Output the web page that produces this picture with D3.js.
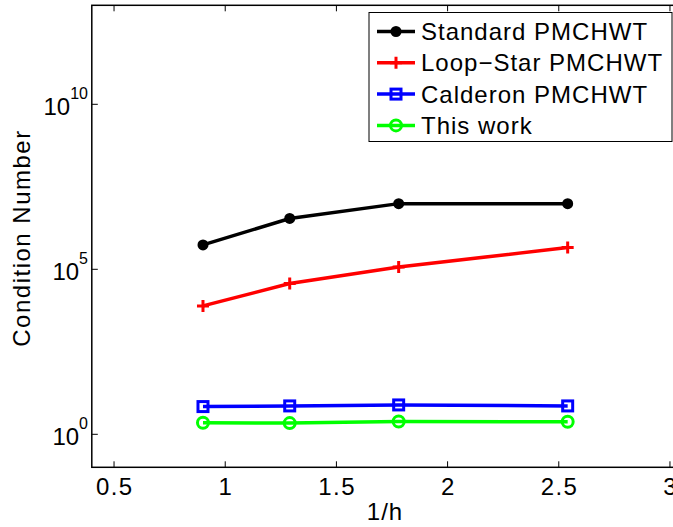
<!DOCTYPE html>
<html lang="en">
<head>
<meta charset="UTF-8">
<title>Condition number vs 1/h</title>
<script src="https://cdn.jsdelivr.net/npm/d3@7"></script>
<style>
  body { margin: 0; background: #fff; }
  svg { display: block; font-family: "Liberation Sans", Arial, sans-serif; }
</style>
</head>
<body>
<div id="chart"></div>
<script>
// data
const invH = [0.9, 1.29, 1.78, 2.54];
const seriesNames = ["Standard PMCHWT", "Loop\u2212Star PMCHWT", "Calderon PMCHWT", "This work"];
const standard = [10 ** 5.74, 10 ** 6.54, 10 ** 6.99, 10 ** 6.99];
const loopStar = [10 ** 3.89, 10 ** 4.57, 10 ** 5.07, 10 ** 5.66];
const calderon = [10 ** 0.84, 10 ** 0.86, 10 ** 0.89, 10 ** 0.86];
const thisWork = [10 ** 0.35, 10 ** 0.34, 10 ** 0.39, 10 ** 0.38];
const xTicks = [0.5, 1, 1.5, 2, 2.5, 3];
const yTickExp = [0, 5, 10];

const colors = ["#000000", "#ff0000", "#0000ff", "#00ff00"];
const markers = ["dot", "plus", "square", "circle"];
const allSeries = [standard, loopStar, calderon, thisWork];

const W = 673, H = 527;
const svg = d3.select("#chart").append("svg")
    .attr("width", W).attr("height", H);

// the figure is cropped on the right, so the axes run past the window
const x = d3.scaleLinear().domain([0.4, 3.1]).range([91.8, 692.2]);
const y = d3.scaleLog().domain([1e-1, 1e13]).range([467.3, 5.3]);
const pLeft = x(0.4), pRight = x(3.1), pTop = y(1e13), pBottom = y(1e-1);

// plot frame
svg.append("rect")
    .attr("x", pLeft).attr("y", pTop)
    .attr("width", pRight - pLeft).attr("height", pBottom - pTop)
    .attr("fill", "none").attr("stroke", "#000").attr("stroke-width", 1.5);

// x ticks (inward, bottom + top)
xTicks.forEach(t => {
  svg.append("line").attr("x1", x(t)).attr("x2", x(t))
      .attr("y1", pBottom).attr("y2", pBottom - 6).attr("stroke", "#000");
  svg.append("line").attr("x1", x(t)).attr("x2", x(t))
      .attr("y1", pTop).attr("y2", pTop + 6).attr("stroke", "#000");
  svg.append("text")
      .attr("x", x(t) + 0.7).attr("y", 495)
      .attr("text-anchor", "middle")
      .style("font-size", "24px")
      .style("letter-spacing", "1.4px")
      .text(t);
});

// y ticks (inward, left + right)
yTickExp.forEach(e => {
  const yy = y(10 ** e);
  svg.append("line").attr("x1", pLeft).attr("x2", pLeft + 6)
      .attr("y1", yy).attr("y2", yy).attr("stroke", "#000");
  svg.append("line").attr("x1", pRight).attr("x2", pRight - 6)
      .attr("y1", yy).attr("y2", yy).attr("stroke", "#000");
  const lab = svg.append("text")
      .attr("x", 88).attr("y", yy + 10.7)
      .attr("text-anchor", "end")
      .style("font-size", "24px");
  lab.append("tspan").text("10");
  lab.append("tspan").attr("dy", -16).style("font-size", "16px").text(e);
});

// axis labels
svg.append("text")
    .attr("x", 385).attr("y", 520)
    .attr("text-anchor", "middle")
    .style("font-size", "24px")
    .style("letter-spacing", "1px")
    .text("1/h");

svg.append("text")
    .attr("transform", "translate(30,238) rotate(-90)")
    .attr("text-anchor", "middle")
    .style("font-size", "24px")
    .style("letter-spacing", "1.5px")
    .text("Condition Number");

function drawMarker(g, kind, cx, cy, col) {
  if (kind === "dot") {
    g.append("circle").attr("cx", cx).attr("cy", cy).attr("r", 5.5).attr("fill", col);
  } else if (kind === "plus") {
    g.append("path")
        .attr("d", `M${cx - 6},${cy}H${cx + 6}M${cx},${cy - 6}V${cy + 6}`)
        .attr("stroke", col).attr("stroke-width", 3).attr("fill", "none");
  } else if (kind === "square") {
    g.append("rect").attr("x", cx - 5).attr("y", cy - 5)
        .attr("width", 10).attr("height", 10)
        .attr("stroke", col).attr("stroke-width", 3).attr("fill", "none");
  } else {
    g.append("circle").attr("cx", cx).attr("cy", cy).attr("r", 5.5)
        .attr("stroke", col).attr("stroke-width", 3).attr("fill", "none");
  }
}

const line = d3.line().x((d, i) => x(invH[i])).y(d => y(d));

allSeries.forEach((vals, k) => {
  const g = svg.append("g");
  g.append("path").datum(vals)
      .attr("d", line)
      .attr("fill", "none")
      .attr("stroke", colors[k])
      .attr("stroke-width", 3.5);
  vals.forEach((v, i) => drawMarker(g, markers[k], x(invH[i]), y(v), colors[k]));
});

// legend
const lg = svg.append("g");
lg.append("rect")
    .attr("x", 369).attr("y", 12.5)
    .attr("width", 303).attr("height", 129)
    .attr("fill", "#fff").attr("stroke", "#000").attr("stroke-width", 1);

seriesNames.forEach((name, k) => {
  const ly = 31.5 + k * 31.3;
  lg.append("line").attr("x1", 377).attr("x2", 415)
      .attr("y1", ly).attr("y2", ly)
      .attr("stroke", colors[k]).attr("stroke-width", 3.5);
  drawMarker(lg, markers[k], 396, ly, colors[k]);
  lg.append("text")
      .attr("x", 421).attr("y", ly + 8.5)
      .style("font-size", "24px")
      .style("letter-spacing", "1px")
      .text(name);
});
</script>
</body>
</html>
